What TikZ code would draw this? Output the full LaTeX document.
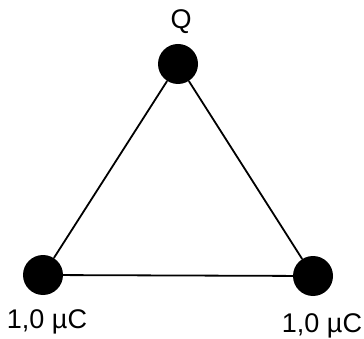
\documentclass[tikz,border=0pt]{standalone}
\usepackage{fontspec}
\setmainfont{Liberation Sans}
\usetikzlibrary{positioning}
\definecolor{ChargeInk}{HTML}{000000}
\tikzset{
  every node/.style={text=ChargeInk},
  charge/.style={circle, fill=ChargeInk, draw=none, minimum size=40pt, inner sep=0pt},
  side/.style={draw=ChargeInk, line width=1.8pt},
  chargelabel/.style={font=\fontsize{27}{30}\selectfont, inner sep=0pt},
}
\begin{document}
\begin{tikzpicture}[x=1pt, y=-1pt]
  \useasboundingbox (0,0) rectangle (364,339);
  % Charges at the corners
  \node[charge] (top) at (178,64) {};
  \node[charge] (left) at (43,275) {};
  \node[charge] (right) at (313,276) {};
  % Sides of the triangle
  \draw[side] (top) -- (left);
  \draw[side] (left) -- (right);
  \draw[side] (right) -- (top);
  % Labels
  \node[chargelabel] (qlabel) at (181,22) {Q};
  \node[chargelabel] (leftlabel) at (47,322) {1,0 µC};
  \node[chargelabel] (rightlabel) at (322,326) {1,0 µC};
\end{tikzpicture}
\end{document}
